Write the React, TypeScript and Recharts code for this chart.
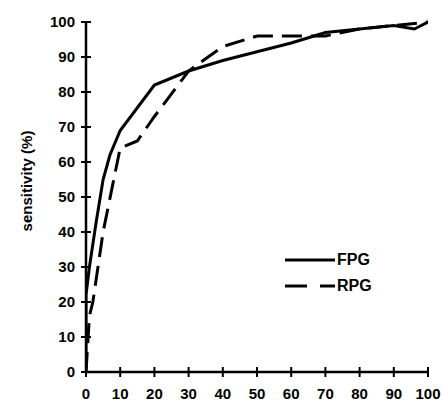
import React from 'react';
import { LineChart, Line, XAxis, YAxis } from 'recharts';

const fpgFpr = [0, 0, 1, 3, 5, 7, 10, 20, 30, 40, 50, 60, 70, 80, 90, 96, 100];
const fpgSens = [0, 22, 30, 43, 55, 62, 69, 82, 86, 89, 91.5, 94, 97, 98, 99, 98, 100];
const rpgFpr = [0, 1, 2, 5, 10, 15, 20, 30, 40, 50, 60, 70, 80, 90, 100];
const rpgSens = [0, 16, 20, 40, 64, 66, 73, 86, 93, 96, 96, 96, 98, 99, 100];
const xTicks = [0, 10, 20, 30, 40, 50, 60, 70, 80, 90, 100];
const yTicks = [0, 10, 20, 30, 40, 50, 60, 70, 80, 90, 100];
const seriesNames = ['FPG', 'RPG'];

const fpgData = fpgFpr.map((x, i) => ({ x, y: fpgSens[i] }));
const rpgData = rpgFpr.map((x, i) => ({ x, y: rpgSens[i] }));

const FONT = '"Liberation Sans", Arial, sans-serif';
const AXIS_X = 86;
const AXIS_Y = 372;

const YTick = (props: any) => {
  const { y, payload } = props;
  return (
    <g>
      <line x1={AXIS_X - 5} x2={AXIS_X + 5} y1={y} y2={y} stroke="#000" strokeWidth={2} />
      <text x={AXIS_X - 11} y={y} dy={5} textAnchor="end" fontSize={15} fontWeight="bold" fontFamily={FONT} fill="#000">
        {payload.value}
      </text>
    </g>
  );
};

const XTick = (props: any) => {
  const { x, payload } = props;
  return (
    <g>
      <line x1={x} x2={x} y1={AXIS_Y - 5} y2={AXIS_Y + 5} stroke="#000" strokeWidth={2} />
      <text x={x} y={AXIS_Y + 27} textAnchor="middle" fontSize={15} fontWeight="bold" fontFamily={FONT} fill="#000">
        {payload.value}
      </text>
    </g>
  );
};

const LegendBox = () => (
  <div style={{ position: 'absolute', left: 285, top: 247, fontFamily: FONT, fontSize: 16, fontWeight: 'bold', color: '#000' }}>
    <div style={{ display: 'flex', alignItems: 'center', height: 26 }}>
      <svg width={52} height={8}>
        <line x1={0} x2={50} y1={4} y2={4} stroke="#000" strokeWidth={3} />
      </svg>
      <span>{seriesNames[0]}</span>
    </div>
    <div style={{ display: 'flex', alignItems: 'center', height: 26 }}>
      <svg width={52} height={8}>
        <line x1={0} x2={50} y1={4} y2={4} stroke="#000" strokeWidth={3} strokeDasharray="22 13" />
      </svg>
      <span>{seriesNames[1]}</span>
    </div>
  </div>
);

export default function App() {
  return (
    <div style={{ position: 'absolute', left: 0, top: 0, width: 443, height: 405, background: '#fff' }}>
      <LineChart width={443} height={405} margin={{ top: 22, right: 15, bottom: 0, left: 0 }}>
        <XAxis
          type="number"
          dataKey="x"
          domain={[0, 100]}
          ticks={xTicks}
          tick={<XTick />}
          tickLine={false}
          axisLine={{ stroke: '#000', strokeWidth: 2.5 }}
          height={33}
          allowDataOverflow
        />
        <YAxis
          type="number"
          dataKey="y"
          domain={[0, 100]}
          ticks={yTicks}
          tick={<YTick />}
          tickLine={false}
          axisLine={{ stroke: '#000', strokeWidth: 2.5 }}
          width={86}
          label={{ value: 'sensitivity (%)', angle: -90, position: 'center', dx: -16, dy: -16, fontSize: 15, fontWeight: 'bold', fontFamily: FONT, fill: '#000' }}
        />
        <Line data={fpgData} dataKey="y" type="linear" stroke="#000" strokeWidth={3} dot={false} isAnimationActive={false} name={seriesNames[0]} />
        <Line data={rpgData} dataKey="y" type="linear" stroke="#000" strokeWidth={3} strokeDasharray="20 9" dot={false} isAnimationActive={false} name={seriesNames[1]} />
      </LineChart>
      <LegendBox />
    </div>
  );
}
